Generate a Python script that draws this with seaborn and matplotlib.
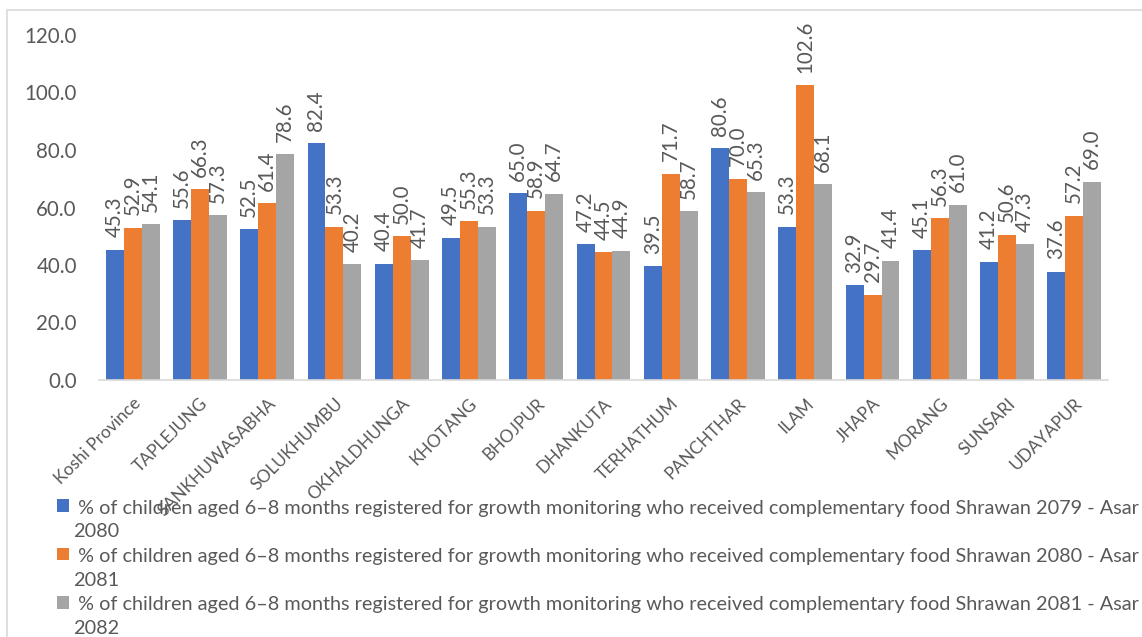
import matplotlib
matplotlib.use("Agg")
import matplotlib.pyplot as plt
import seaborn as sns
import pandas as pd
from matplotlib.patches import Rectangle
from matplotlib.legend_handler import HandlerPatch

districts = ["Koshi Province", "TAPLEJUNG", "SANKHUWASABHA", "SOLUKHUMBU", "OKHALDHUNGA",
             "KHOTANG", "BHOJPUR", "DHANKUTA", "TERHATHUM", "PANCHTHAR", "ILAM",
             "JHAPA", "MORANG", "SUNSARI", "UDAYAPUR"]
v2079 = [45.3, 55.6, 52.5, 82.4, 40.4, 49.5, 65.0, 47.2, 39.5, 80.6, 53.3, 32.9, 45.1, 41.2, 37.6]
v2080 = [52.9, 66.3, 61.4, 53.3, 50.0, 55.3, 58.9, 44.5, 71.7, 70.0, 102.6, 29.7, 56.3, 50.6, 57.2]
v2081 = [54.1, 57.3, 78.6, 40.2, 41.7, 53.3, 64.7, 44.9, 58.7, 65.3, 68.1, 41.4, 61.0, 47.3, 69.0]
series_names = [
    " % of children aged 6\u20138 months registered for growth monitoring who received complementary food Shrawan 2079 - Asar\n2080",
    " % of children aged 6\u20138 months registered for growth monitoring who received complementary food Shrawan 2080 - Asar\n2081",
    " % of children aged 6\u20138 months registered for growth monitoring who received complementary food Shrawan 2081 - Asar\n2082",
]
yticks = [0, 20, 40, 60, 80, 100, 120]
colors = ["#4472C4", "#ED7D31", "#A5A5A5"]

rows = []
for name, vals in zip(series_names, [v2079, v2080, v2081]):
    for d, v in zip(districts, vals):
        rows.append({"district": d, "series": name, "value": v})
df = pd.DataFrame(rows)

sns.set_theme(style="white")
plt.rcParams["font.family"] = ["Lato", "DejaVu Sans"]
txt = "#595959"

fig = plt.figure(figsize=(11.42, 6.37), dpi=100)
ax = fig.add_axes([99/1142, 1 - 380/637, (1108-99)/1142, (380-35)/637])

sns.barplot(data=df, x="district", y="value", hue="series", palette=colors,
            order=districts, hue_order=series_names, width=0.8, gap=0,
            saturation=1, ax=ax, legend=True, edgecolor="none")

for cont in ax.containers:
    ax.bar_label(cont, fmt="%.1f", rotation=90, padding=9, fontsize=14.8,
                 color=txt, clip_on=False)

ax.set_ylim(0, 120)
ax.set_xlim(-0.5, len(districts) - 0.5)
ax.set_yticks(yticks)
ax.set_yticklabels([f"{t:.1f}" for t in yticks], fontsize=14.8, color=txt)
ax.tick_params(axis="y", length=0, pad=16)
ax.tick_params(axis="x", length=0, pad=11)
ax.set_xticks(range(len(districts)))
ax.set_xticklabels(districts, rotation=45, ha="right", rotation_mode="anchor",
                   fontsize=12.5, color=txt)
ax.set_xlabel("")
ax.set_ylabel("")
for s in ["top", "right", "left"]:
    ax.spines[s].set_visible(False)
ax.spines["bottom"].set_color("#D9D9D9")
ax.spines["bottom"].set_linewidth(1.2)

handles, labels = ax.get_legend_handles_labels()
ax.get_legend().remove()

LS = 1.45


def square_up(legend, orig_handle, xdescent, ydescent, width, height, fontsize):
    return Rectangle((-xdescent, -ydescent + 0.5 * fontsize * LS), width, height)


leg = fig.legend(handles, labels, loc="upper left", bbox_to_anchor=(57/1142, 1 - 500/637),
                 frameon=False, fontsize=14.3, labelcolor=txt, handlelength=0.62,
                 handleheight=0.62, handletextpad=0.2, labelspacing=0.4,
                 borderaxespad=0, borderpad=0,
                 handler_map={h: HandlerPatch(patch_func=square_up) for h in handles})
for t in leg.get_texts():
    t.set_linespacing(LS)

fig.patches.append(Rectangle((7/1142, -0.05), 1.2, 1.05 - 10/637,
                             transform=fig.transFigure, fill=False,
                             edgecolor="#D9D9D9", linewidth=1.2))

fig.savefig("out.png", dpi=100)
